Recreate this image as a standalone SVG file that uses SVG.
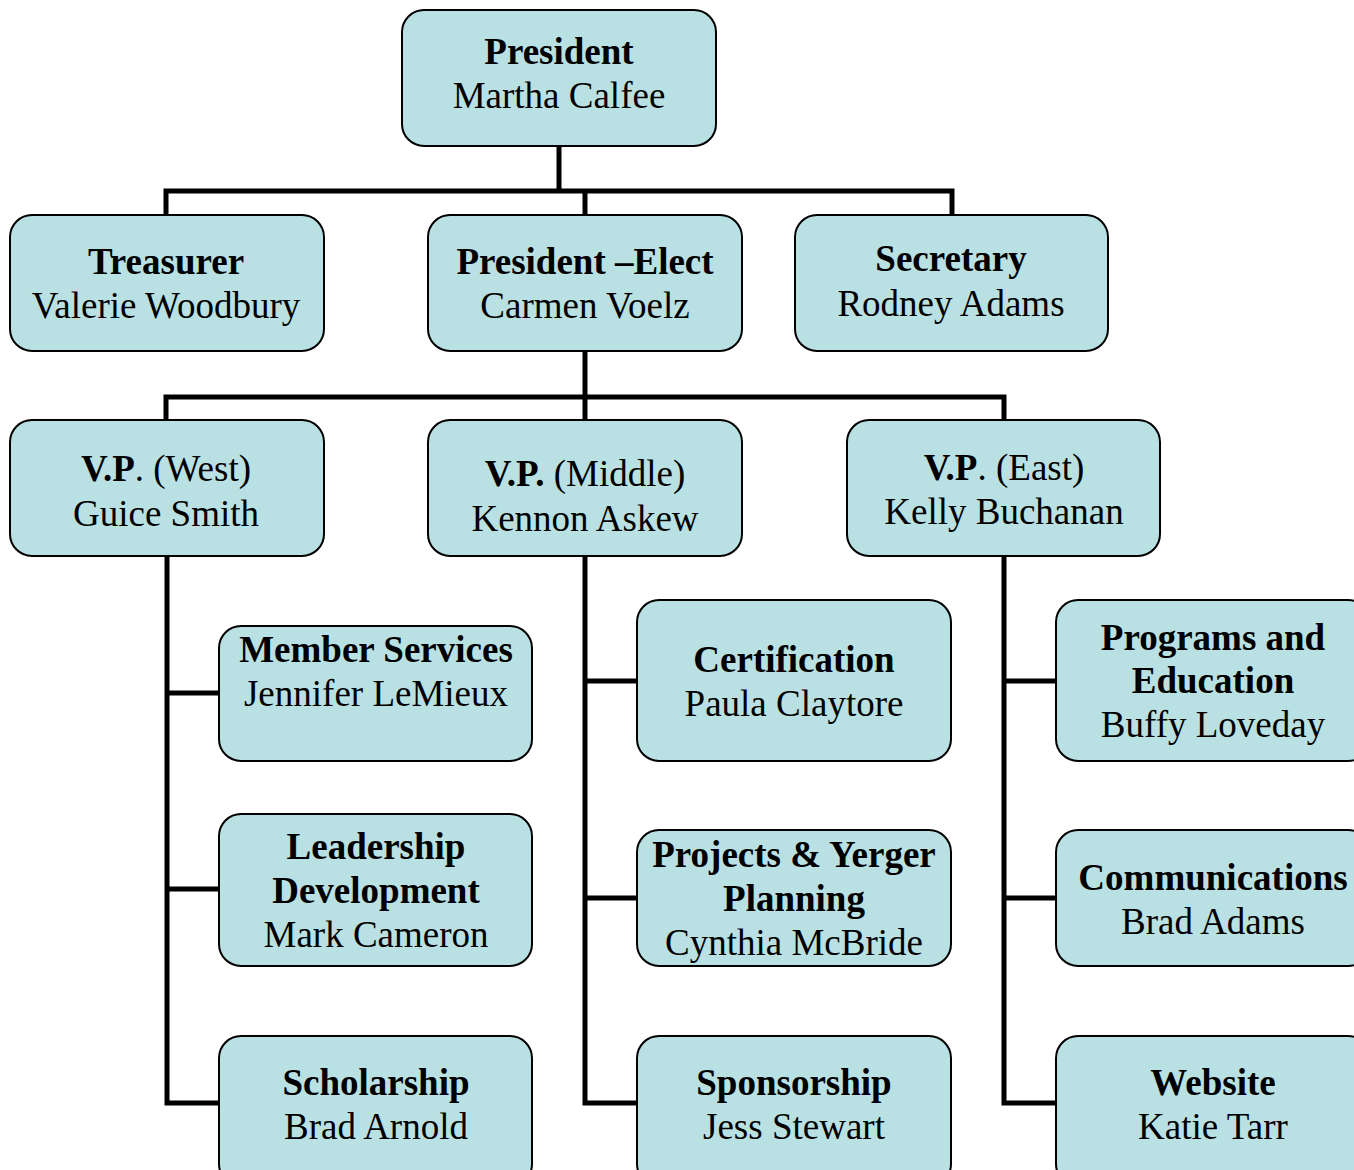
<svg xmlns="http://www.w3.org/2000/svg" width="1354" height="1170" viewBox="0 0 1354 1170">
<style>
.box{fill:#b9e0e3;stroke:#000;stroke-width:2}
.ln{fill:none;stroke:#000;stroke-width:5;stroke-linejoin:miter;stroke-linecap:square}
text{font-family:"Liberation Serif","Times New Roman",serif;font-size:37px;fill:#000;text-anchor:middle}
.b{font-weight:bold}
</style>
<rect width="1354" height="1170" fill="#fff"/>
<g id="connectors">
<path class="ln" d="M559,146 V191 M166,215 V191 H952 V215 M585,191 V215"/>
<path class="ln" d="M585,351 V397 M166,420 V397 H1004 V420 M585,397 V420"/>
<path class="ln" d="M167,556 V1103 H219 M167,693 H219 M167,889 H219"/>
<path class="ln" d="M585,556 V1103 H637 M585,681 H637 M585,898 H637"/>
<path class="ln" d="M1004,556 V1103 H1056 M1004,681 H1056 M1004,898 H1056"/>
</g>
<g id="president"><rect class="box" x="402" y="10" width="314" height="136" rx="22"/><text x="559" y="64" class="b">President</text><text x="559" y="108">Martha Calfee</text></g>
<g id="treasurer"><rect class="box" x="10" y="215" width="314" height="136" rx="22"/><text x="166" y="274" class="b">Treasurer</text><text x="166" y="318">Valerie Woodbury</text></g>
<g id="president-elect"><rect class="box" x="428" y="215" width="314" height="136" rx="22"/><text x="585" y="274" class="b">President –Elect</text><text x="585" y="318">Carmen Voelz</text></g>
<g id="secretary"><rect class="box" x="795" y="215" width="313" height="136" rx="22"/><text x="951" y="271" class="b">Secretary</text><text x="951" y="316">Rodney Adams</text></g>
<g id="vp-west"><rect class="box" x="10" y="420" width="314" height="136" rx="22"/><text x="166" y="481"><tspan class="b">V.P</tspan>. (West)</text><text x="166" y="526">Guice Smith</text></g>
<g id="vp-middle"><rect class="box" x="428" y="420" width="314" height="136" rx="22"/><text x="585" y="486"><tspan class="b">V.P.</tspan> (Middle)</text><text x="585" y="531">Kennon Askew</text></g>
<g id="vp-east"><rect class="box" x="847" y="420" width="313" height="136" rx="22"/><text x="1004" y="480"><tspan class="b">V.P</tspan>. (East)</text><text x="1004" y="524">Kelly Buchanan</text></g>
<g id="member-services"><rect class="box" x="219" y="626" width="313" height="135" rx="22"/><text x="376" y="662" class="b">Member Services</text><text x="376" y="706">Jennifer LeMieux</text></g>
<g id="leadership"><rect class="box" x="219" y="814" width="313" height="152" rx="22"/><text x="376" y="859" class="b">Leadership</text><text x="376" y="903" class="b">Development</text><text x="376" y="947">Mark Cameron</text></g>
<g id="scholarship"><rect class="box" x="219" y="1036" width="313" height="150" rx="22"/><text x="376" y="1095" class="b">Scholarship</text><text x="376" y="1139">Brad Arnold</text></g>
<g id="certification"><rect class="box" x="637" y="600" width="314" height="161" rx="22"/><text x="794" y="672" class="b">Certification</text><text x="794" y="716">Paula Claytore</text></g>
<g id="projects"><rect class="box" x="637" y="830" width="314" height="136" rx="22"/><text x="794" y="867" class="b">Projects &amp; Yerger</text><text x="794" y="911" class="b">Planning</text><text x="794" y="955">Cynthia McBride</text></g>
<g id="sponsorship"><rect class="box" x="637" y="1036" width="314" height="150" rx="22"/><text x="794" y="1095" class="b">Sponsorship</text><text x="794" y="1139">Jess Stewart</text></g>
<g id="programs"><rect class="box" x="1056" y="600" width="314" height="161" rx="22"/><text x="1213" y="650" class="b">Programs and</text><text x="1213" y="693" class="b">Education</text><text x="1213" y="737">Buffy Loveday</text></g>
<g id="communications"><rect class="box" x="1056" y="830" width="314" height="136" rx="22"/><text x="1213" y="890" class="b">Communications</text><text x="1213" y="934">Brad Adams</text></g>
<g id="website"><rect class="box" x="1056" y="1036" width="314" height="150" rx="22"/><text x="1213" y="1095" class="b">Website</text><text x="1213" y="1139">Katie Tarr</text></g>
</svg>
